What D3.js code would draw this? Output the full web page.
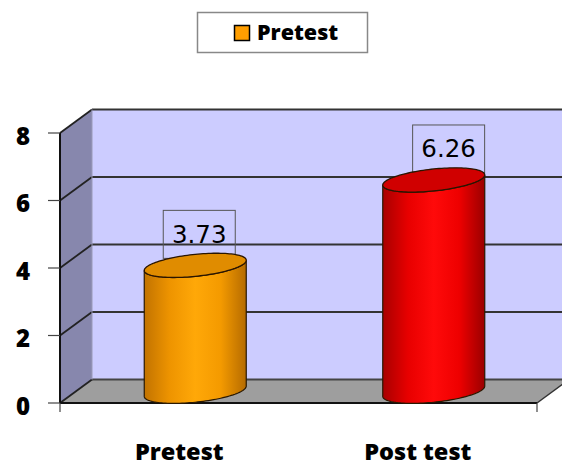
<!DOCTYPE html>
<html><head><meta charset="utf-8">
<script src="https://cdn.jsdelivr.net/npm/d3@7"></script>
<style>body{margin:0;background:#fff}svg{display:block}</style>
</head><body>
<script>
const categories = ["Pretest", "Post test"];
const values = [3.73, 6.26];
const yTicks = [0, 2, 4, 6, 8];
const legendLabel = "Pretest";

const W = 562, H = 466;
const svg = d3.select("body").append("svg").attr("width", W).attr("height", H);
const defs = svg.append("defs");

const x = d3.scaleBand().domain(categories).range([60, 537]);
const y = d3.scaleLinear().domain([0, 8]).range([403, 133]);
const DX = 32, DY = -23.5;
const x0 = x.range()[0], x1 = x.range()[1];

const lineFont = "'Open Sans', sans-serif";

// back wall
svg.append("polygon")
  .attr("points", [[x0+DX, y(8)+DY],[x1+DX+40, y(8)+DY],[x1+DX+40, y(0)+DY],[x0+DX, y(0)+DY]].join(" "))
  .attr("fill", "#ccccff");
// left wall
svg.append("polygon")
  .attr("points", [[x0, y(8)],[x0+DX, y(8)+DY],[x0+DX, y(0)+DY],[x0, y(0)]].join(" "))
  .attr("fill", "#8787ad");
// floor
svg.append("polygon")
  .attr("points", [[x0, y(0)],[x1, y(0)],[x1+DX, y(0)+DY],[x0+DX, y(0)+DY]].join(" "))
  .attr("fill", "#9e9e9e");

// gridlines
yTicks.forEach(t => {
  svg.append("line").attr("x1", x0+DX).attr("x2", W+10)
    .attr("y1", y(t)+DY).attr("y2", y(t)+DY)
    .attr("stroke", t === 0 ? "#444" : "#333").attr("stroke-width", 2);
  svg.append("line").attr("x1", x0).attr("x2", x0+DX)
    .attr("y1", y(t)).attr("y2", y(t)+DY)
    .attr("stroke", "#222").attr("stroke-width", 1.8);
});
// wall edge between left wall and back wall
svg.append("line").attr("x1", x0+DX).attr("x2", x0+DX).attr("y1", y(8)+DY).attr("y2", y(0)+DY)
  .attr("stroke", "#9a9ab8").attr("stroke-width", 1);
// floor right edge
svg.append("line").attr("x1", x1).attr("y1", y(0)).attr("x2", x1+DX+8).attr("y2", y(0)+DY-6)
  .attr("stroke", "#333").attr("stroke-width", 1.5);
// front axis lines
svg.append("line").attr("x1", x0).attr("x2", x0).attr("y1", y(8)).attr("y2", y(0))
  .attr("stroke", "#111").attr("stroke-width", 2);
svg.append("line").attr("x1", x0).attr("x2", x1).attr("y1", y(0)).attr("y2", y(0))
  .attr("stroke", "#111").attr("stroke-width", 2);

// y ticks + labels
yTicks.forEach(t => {
  svg.append("line").attr("x1", x0-12).attr("x2", x0).attr("y1", y(t)).attr("y2", y(t))
    .attr("stroke", "#444").attr("stroke-width", 1.2);
  svg.append("text").attr("x", 30).attr("y", y(t)+3.5).attr("dy", "0.35em")
    .attr("text-anchor", "end").attr("font-family", lineFont).attr("font-weight", 800)
    .attr("font-size", 24).attr("fill", "#000").text(t);
});
// x ticks
[x0, x1].forEach(v => {
  svg.append("line").attr("x1", v).attr("x2", v).attr("y1", y(0)).attr("y2", y(0)+9)
    .attr("stroke", "#444").attr("stroke-width", 1.2);
});
// category labels
categories.forEach(c => {
  svg.append("text").attr("x", x(c) + x.bandwidth()/2).attr("y", 460)
    .attr("text-anchor", "middle").attr("font-family", lineFont).attr("font-weight", 800)
    .attr("font-size", 23.5).attr("fill", "#000").text(c);
});

// gradients
const palettes = [
  {id: "gO", stops: ["#c27300", "#ee9400", "#ffa808", "#f49a00", "#b56b00"], top: "#e08c00"},
  {id: "gR", stops: ["#a80000", "#e80000", "#ff0a0a", "#ee0000", "#9a0000"], top: "#d00000"}
];
palettes.forEach(p => {
  const g = defs.append("linearGradient").attr("id", p.id).attr("x1", 0).attr("x2", 1).attr("y1", 0).attr("y2", 0);
  p.stops.forEach((s, i) => g.append("stop").attr("offset", (i/(p.stops.length-1))).attr("stop-color", s));
});

const RX = 51, RY = 11, K = -0.1;
function ept(cx, cy, t) { return [cx + RX*Math.cos(t), cy + RY*Math.sin(t) + K*RX*Math.cos(t)]; }

categories.forEach((c, i) => {
  const v = values[i];
  const cx = x(c) + x.bandwidth()/2 + DX/2;
  const cyB = y(0) + DY/2, cyT = y(v) + DY/2;
  // label box (behind cylinder)
  const lx = cx + 4 + (v - 3.73) * 4.3;
  const by = cyT - 55;
  svg.append("rect").attr("x", lx - 36).attr("y", by).attr("width", 72).attr("height", 48)
    .attr("fill", "none").attr("stroke", "#555").attr("stroke-width", 1);
  svg.append("text").attr("x", lx).attr("y", by + 32.5).attr("text-anchor", "middle")
    .attr("font-family", "'DejaVu Sans', sans-serif").attr("font-size", 24.5).attr("fill", "#000")
    .text(v.toFixed(2));

  const ts = d3.range(0, 61).map(k => Math.PI - k*Math.PI/60);
  const pts = [];
  ts.forEach(t => pts.push(ept(cx, cyB, t)));
  ts.slice().reverse().forEach(t => pts.push(ept(cx, cyT, t)));
  svg.append("path").attr("d", d3.line()(pts) + "Z")
    .attr("fill", `url(#${palettes[i].id})`).attr("stroke", "#2a1800").attr("stroke-width", 1.2);
  const topPts = d3.range(0, 121).map(k => ept(cx, cyT, k*2*Math.PI/120));
  svg.append("path").attr("d", d3.line()(topPts) + "Z")
    .attr("fill", palettes[i].top).attr("stroke", "#2a1500").attr("stroke-width", 1.3);
});

// legend
svg.append("rect").attr("x", 197.5).attr("y", 12.5).attr("width", 170).attr("height", 40)
  .attr("fill", "#fff").attr("stroke", "#888").attr("stroke-width", 1.5);
svg.append("rect").attr("x", 234.5).attr("y", 25.5).attr("width", 15).attr("height", 15)
  .attr("fill", "#ff9e00").attr("stroke", "#000").attr("stroke-width", 1.5);
svg.append("text").attr("x", 257).attr("y", 39.5).attr("font-family", lineFont).attr("font-weight", 800)
  .attr("font-size", 21.5).attr("fill", "#000").text(legendLabel);
</script>
</body></html>
